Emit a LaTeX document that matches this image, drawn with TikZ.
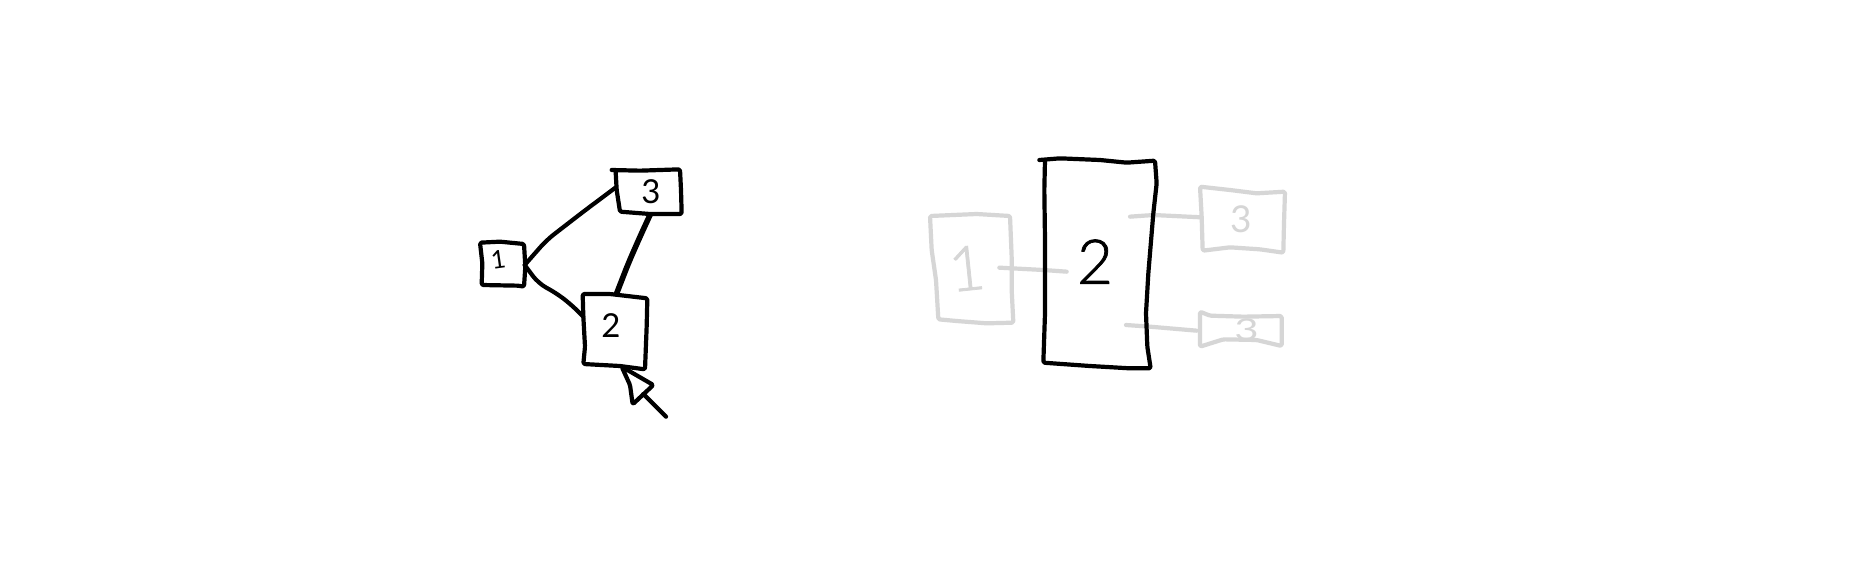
\documentclass[tikz,border=0pt]{standalone}
\usepackage{fontspec}
\newfontfamily\handfont{Lato}
\newfontfamily\handbig[FakeBold=1.2]{Lato Light}
\definecolor{ghost}{HTML}{D6D6D6}
\tikzset{
  sketch/.style={line width=4.2pt,line join=round,line cap=round,rounded corners=1.5pt},
  ink/.style={sketch,draw=black},
  faint/.style={sketch,draw=ghost,line width=4.2pt},
  link/.style={ink,rounded corners=9pt},
  faintlink/.style={faint,rounded corners=6pt},
  thicklink/.style={ink,line width=5.6pt,rounded corners=9pt},
  boxanchor/.style={inner sep=0pt,outer sep=0pt,draw=none,rectangle},
  digit/.style={inner sep=0pt,outer sep=0pt},
  zoomA/.style={shift={(450,140)},x=0.33333pt,y=-0.33333pt},
  zoomB/.style={shift={(910,140)},x=0.33333pt,y=-0.33333pt},
}
\begin{document}
\begin{tikzpicture}[x=1pt,y=-1pt]
\useasboundingbox (0,0) rectangle (1872,571);
\fill[white] (0,0) rectangle (1872,571);
\begin{scope}[zoomA]
  % box anchors (invisible nodes: the outlines are hand-drawn paths)
  \node[boxanchor,minimum width=44pt,minimum height=44pt] (one) at (158,375) {};
  \node[boxanchor,minimum width=65pt,minimum height=44pt] (three) at (595,142) {};
  \node[boxanchor,minimum width=64pt,minimum height=72pt] (two) at (496,530) {};
  \coordinate (threeB) at (600,225);
  \coordinate (twoT) at (500,460);
  \coordinate (arrowTip) at (515,680);
  \coordinate (arrowL) at (548,793);
  \coordinate (arrowR) at (610,735);
  \coordinate (arrowM) at (580,762);
  \coordinate (arrowEnd) at (648,830);
  % outlines
  \draw[ink] (90,308)--(150,305)--(222,312)--(226,380)--(222,440)--(205,437)--(95,435)--(97,370)--cycle;
  \draw[ink] (485,90)--(570,92)--(690,88)--(693,150)--(695,222)--(600,222)--(510,215)--(500,150)--(497,95);
  \draw[ink] (398,462)--(480,462)--(592,475)--(590,560)--(585,688)--(510,678)--(400,672)--(405,620)--(400,530)--cycle;
  % connectors
  \draw[link] (one.east) -- (290,300) -- (400,215) -- (three.west);
  \draw[link] (one.east) -- (265,430) -- (320,460) -- (365,495) -- (two.west);
  \draw[thicklink] (threeB) -- (570,290) -- (535,370) -- (twoT);
  % cursor
  \draw[ink] (arrowTip) -- (arrowR) -- (arrowL) -- (540,735) -- cycle;
  \draw[ink] (arrowM) -- (arrowEnd);
  % digits
  \node[digit,font=\handfont\fontsize{25}{25}\selectfont,rotate=8] (d1) at (145,360) {1};
  \node[digit,font=\handfont\fontsize{33}{33}\selectfont] (d2) at (483,558) {2};
  \node[digit,font=\handfont\fontsize{33}{33}\selectfont] (d3) at (603,155) {3};
\end{scope}
\begin{scope}[zoomB]
  \coordinate (oneIn) at (268,383);
  \coordinate (bigL) at (470,395);
  \coordinate (bigRa) at (660,230);
  \coordinate (threeA) at (875,232);
  \coordinate (bigRb) at (648,555);
  \coordinate (threeC) at (860,572);
  % faint boxes
  \draw[faint] (60,228)--(130,225)--(200,222)--(300,228)--(305,350)--(305,450)--(310,548)--(230,550)--(140,543)--(85,538)--(78,420)--(65,330)--cycle;
  \draw[faint] (870,140)--(960,150)--(1040,160)--(1125,155)--(1122,250)--(1120,338)--(1050,328)--(960,322)--(878,332)--(875,230)--cycle;
  \draw[faint] (870,515)--(900,527)--(1000,530)--(1115,528)--(1115,618)--(1040,600)--(940,598)--(870,620)--cycle;
  % faint connectors
  \draw[faintlink] (oneIn) -- (400,390) -- (bigL);
  \draw[faintlink] (bigRa) -- (730,225) -- (threeA);
  \draw[faintlink] (bigRb) -- (720,560) -- (threeC);
  % large box
  \draw[ink] (388,60)--(450,55)--(570,60)--(650,68)--(735,62)--(740,130)--(730,220)--(715,400)--(708,520)--(712,620)--(722,685)--(660,685)--(540,678)--(400,668)--(405,520)--(405,300)--(403,150)--(405,60);
  % digits
  \node[digit,font=\handbig\fontsize{62}{62}\selectfont] (big2) at (555,365) {2};
  \node[digit,text=ghost,font=\handbig\fontsize{62}{62}\selectfont,rotate=6] (g1) at (170,385) {1};
  \node[digit,text=ghost,font=\handfont\fontsize{37}{37}\selectfont] (g3) at (993,238) {3};
  \node[digit,text=ghost,font=\handfont\fontsize{30}{30}\selectfont,xscale=1.4] (g3b) at (1010,570) {3};
\end{scope}
\end{tikzpicture}
\end{document}
